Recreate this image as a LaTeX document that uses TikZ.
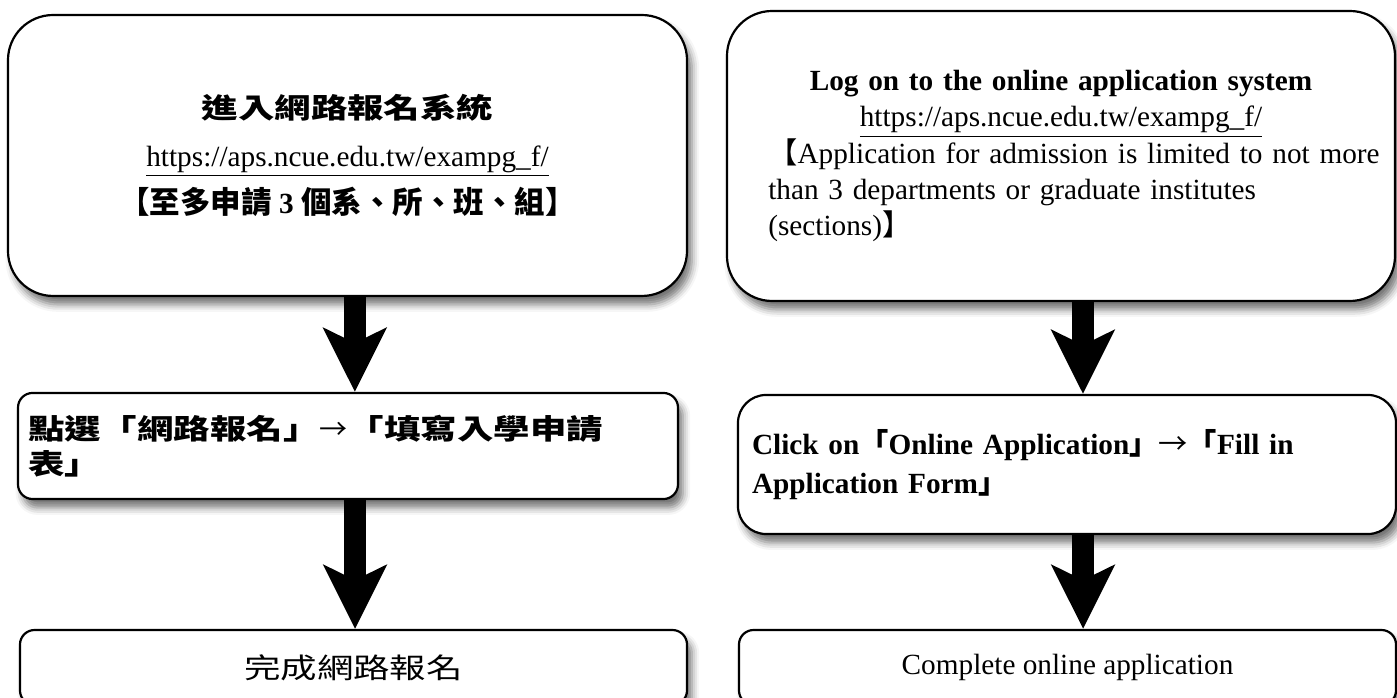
\documentclass[tikz,border=0pt]{standalone}
\usepackage{fontspec}
\setmainfont{Liberation Serif}
\newfontfamily\cjk{Noto Sans CJK TC}
\newfontfamily\cjkw[FakeStretch=1.3]{Noto Sans CJK TC}
\usetikzlibrary{arrows.meta,shadows.blur}
\definecolor{ink}{HTML}{000000}
\definecolor{paper}{HTML}{FFFFFF}
\newcommand{\thinarrow}{{\cjk\mdseries →}}
\tikzset{
  box/.style={draw=ink, line width=0.9pt, fill=paper, inner sep=0pt,
    blur shadow={shadow xshift=2pt, shadow yshift=-3.5pt, shadow blur radius=3pt, shadow opacity=55}},
  bigbox/.style={box, rounded corners=18.5pt, minimum height=117pt},
  smallbox/.style={box, rounded corners=6pt},
  flow/.style={draw=ink, line width=9pt, -{Stealth[length=26pt, width=25.5pt, inset=6pt]}},
}

\begin{document}
\begin{tikzpicture}[x=0.41pt, y=-0.41pt, font=\fontsize{12}{15}\selectfont]
  \useasboundingbox (0,0) rectangle (1397,698);
  % left column
  \node[bigbox, minimum width=278.4pt, minimum height=115.2pt, align=center,
        font=\fontsize{12}{19.3}\selectfont] (ltop) at (347.5,155.5)
    {{\fontsize{11.5}{19.3}\selectfont\cjkw\bfseries 進入網路報名系統}\\
     \underline{https://aps.ncue.edu.tw/exampg\_f/}\\
     {\fontsize{12.5}{19.3}\selectfont\cjk\bfseries 【至多申請} \textbf{3}
     {\fontsize{12.5}{19.3}\selectfont\cjk\bfseries 個系、所、班、組】}};
  \node[smallbox, minimum width=270.6pt, minimum height=43.5pt, text width=262.4pt,
        align=left, font=\fontsize{11.5}{14.4}\selectfont\cjkw\bfseries] (lmid) at (348,446)
    {點選「網路報名」\thinarrow「填寫入學申請\\表」};
  \node[smallbox, minimum width=273.5pt, minimum height=30.75pt,
        font=\fontsize{11.5}{14}\selectfont\cjkw] (lbot) at (353.5,667.5) {完成網路報名};
  % right column
  \node[bigbox, minimum width=273.9pt, minimum height=118.9pt, text width=240pt, align=left,
        font=\fontsize{12}{14.8}\selectfont] (rtop) at (1061,156)
    {\makebox[\linewidth]{\bfseries Log on to the online application system}\\
     \makebox[\linewidth]{\underline{https://aps.ncue.edu.tw/exampg\_f/}}\\
     \makebox[\linewidth][l]{{\cjk 【}Application for admission is limited to not more}\\
     than 3 departments or graduate institutes\\
     (sections){\cjk 】}};
  \node[box, rounded corners=11.5pt, minimum width=269.8pt, minimum height=57pt,
        text width=258.3pt, align=left, font=\fontsize{12}{16}\selectfont\bfseries] (rmid) at (1067,464.5)
    {Click on{\cjk 「}Online Application{\cjk 」}\thinarrow{\cjk 「}Fill in\\
     Application Form{\cjk 」}};
  \node[smallbox, minimum width=269.4pt, minimum height=30.75pt] (rbot) at (1067.5,667.5)
    {Complete online application};
  % arrows
  \draw[flow] ([xshift=3pt]ltop.south) -- ([xshift=3pt]ltop.south |- lmid.north);
  \draw[flow] ([xshift=2.9pt]lmid.south) -- ([xshift=2.9pt]lmid.south |- lbot.north);
  \draw[flow] ([xshift=9pt]rtop.south) -- ([xshift=9pt]rtop.south |- rmid.north);
  \draw[flow] ([xshift=6.6pt]rmid.south) -- ([xshift=6.6pt]rmid.south |- rbot.north);
\end{tikzpicture}
\end{document}
